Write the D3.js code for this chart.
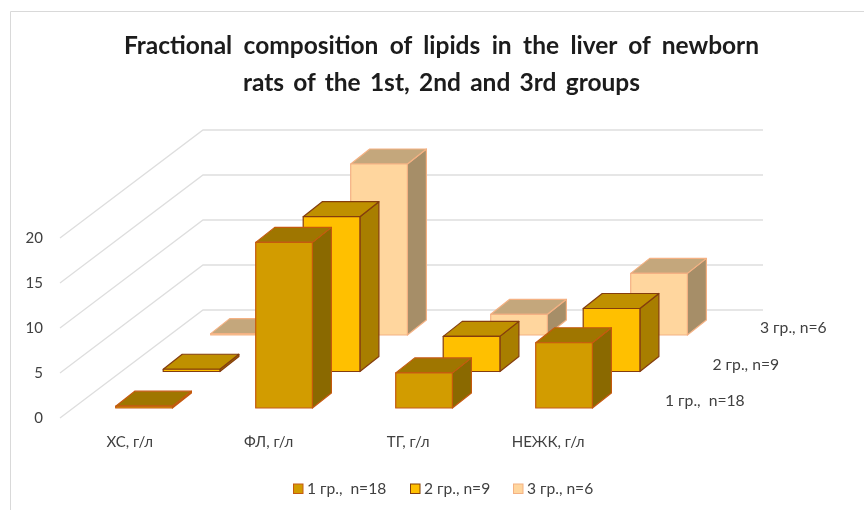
<!DOCTYPE html>
<html><head><meta charset="utf-8">
<script src="https://cdn.jsdelivr.net/npm/d3@7/dist/d3.min.js"></script>
<style>html,body{margin:0;padding:0;background:#fff}svg{display:block}</style>
</head><body>
<svg id="c" width="864" height="510"></svg>
<script>
const titleLines = ["Fractional composition of lipids in the liver of newborn","rats of the 1st, 2nd and 3rd groups"];
const categories = ["ХС, г/л","ФЛ, г/л","ТГ, г/л","НЕЖК, г/л"];
const seriesNames = ["1 гр.,  n=18","2 гр., n=9","3 гр., n=6"];
const series1 = [0.2,18.4,3.9,7.25];
const series2 = [0.25,17.2,3.9,7.0];
const series3 = [0.15,19.0,2.3,6.85];
const yTicks = [0,5,10,15,20];
const seriesValues = [series1,series2,series3];
const frontFill = ["#d29c00","#ffc000","#ffd69e"];
const topFill = ["#9f7600","#bf9000","#c4a77b"];
const sideFill = ["#8a6900","#a87e00","#a68e68"];
const edge = ["#c55a11","#843c0c","#f4b183"];
const font = "Lato, 'Open Sans', sans-serif";
const svg = d3.select("#c");
const defs = svg.append("defs");
defs.append("filter").attr("id","soft").append("feGaussianBlur").attr("stdDeviation",0.45);
const root = svg.append("g").attr("filter","url(#soft)");

// frame
root.append("path").attr("d","M10.5,510V11.5H864").attr("fill","none").attr("stroke","#d9d9d9");

// scales
const yFront = d3.scaleLinear().domain([0,20]).range([418,238]);
const yBack = d3.scaleLinear().domain([0,20]).range([310,130]);
const hScale = d3.scaleLinear().domain([0,20]).range([0,180]);
const xCat = d3.scalePoint().domain(categories).range([115.7,535.7]);
const seriesDx = d3.scalePoint().domain(seriesNames).range([0,95]);
const seriesBase = d3.scalePoint().domain(seriesNames).range([408,335]);
const barW = 56.7, depthX = 19, depthY = 15;

// walls
const grid = root.append("g").attr("fill","none").attr("stroke","#dedede").attr("stroke-width",1.3);
yTicks.forEach(v=>{
  grid.append("path").attr("d",`M60,${yFront(v)}L203,${yBack(v)}H763`);
});

// value axis
const axis = d3.axisLeft(yFront).tickValues(yTicks).tickSize(0).tickPadding(0);
const ga = root.append("g").attr("transform","translate(43,0)").call(axis);
ga.select(".domain").remove();
ga.selectAll("text").attr("font-family",font).attr("font-size",15).attr("fill","#404040");

// bars, back series first
seriesNames.map((s,i)=>i).reverse().forEach(i=>{
  const s = seriesNames[i];
  categories.forEach((c,j)=>{
    const x = xCat(c)+seriesDx(s), b = seriesBase(s), t = b-hScale(seriesValues[i][j]);
    const g = root.append("g").attr("stroke",edge[i]).attr("stroke-width",1.2).attr("stroke-linejoin","round");
    g.append("path").attr("fill",sideFill[i]).attr("d",`M${x+barW},${t}l${depthX},${-depthY}V${b-depthY}l${-depthX},${depthY}Z`);
    g.append("path").attr("fill",topFill[i]).attr("d",`M${x},${t}l${depthX},${-depthY}h${barW}l${-depthX},${depthY}Z`);
    g.append("rect").attr("fill",frontFill[i]).attr("x",x).attr("y",t).attr("width",barW).attr("height",b-t);
  });
});

// category labels
root.append("g").selectAll("text").data(categories).join("text")
  .attr("x",(d,i)=>xCat(d)+[14,13,12.5,12.5][i]).attr("y",446.5).attr("text-anchor","middle")
  .attr("font-family",font).attr("font-size",15).attr("fill","#404040").text(d=>d);

// series labels on depth axis
root.append("g").selectAll("text").data(seriesNames).join("text")
  .attr("x",d=>665+seriesDx(d)).attr("y",d=>seriesBase(d)-2).style("white-space","pre")
  .attr("font-family",font).attr("font-size",15.7).attr("fill","#404040").text(d=>d);

// title
const titleSpacing = [5.4,3.3];
root.append("g").selectAll("text").data(titleLines).join("text")
  .attr("x",441.5).attr("y",(d,i)=>54+i*37).attr("text-anchor","middle")
  .attr("font-family",font).attr("font-weight",700).attr("font-size",24.5).attr("fill","#1a1a1a")
  .attr("word-spacing",(d,i)=>titleSpacing[i]).text(d=>d);

// legend
const legendX = d3.scaleOrdinal().domain(seriesNames).range([293,410,513]);
const lg = root.append("g").selectAll("g").data(seriesNames).join("g")
  .attr("transform",d=>`translate(${legendX(d)},0)`);
lg.append("rect").attr("x",0.5).attr("y",484).attr("width",9.5).attr("height",9.5)
  .attr("fill",(d,i)=>frontFill[i]).attr("stroke",(d,i)=>edge[i]);
lg.append("text").attr("x",14).attr("y",494).style("white-space","pre")
  .attr("font-family",font).attr("font-size",15.6).attr("fill","#404040").text(d=>d);
</script>
</body></html>
